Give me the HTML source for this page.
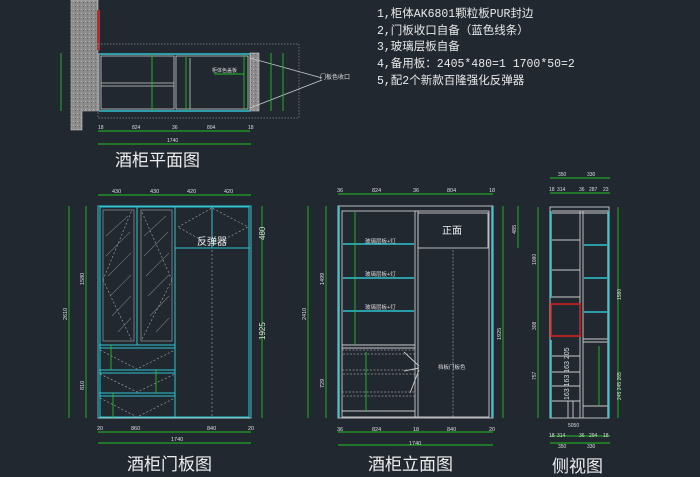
<!DOCTYPE html>
<html><head><meta charset="utf-8"><style>
html,body{margin:0;padding:0;background:#212830;}
svg{display:block}
.t{font-family:"Liberation Sans","Noto Sans CJK SC",sans-serif;}
</style></head><body>
<svg width="700" height="477" viewBox="0 0 700 477" xmlns="http://www.w3.org/2000/svg" class="t">
<defs>
<pattern id="conc" width="4" height="4" patternUnits="userSpaceOnUse"><rect width="4" height="4" fill="#8c8c8c"/><rect x="1" y="1" width="1" height="1" fill="#b5b5b5"/><rect x="3" y="2" width="1" height="1" fill="#666"/></pattern>
</defs>
<rect width="700" height="477" fill="#212830"/>

<!-- ===== PLAN VIEW ===== -->
<path d="M71 0 H98 V111 H82 V130 H71 Z" fill="url(#conc)" stroke="#ccc" stroke-width="0.6"/>
<rect x="97" y="10" width="3" height="40" fill="#d02020"/>
<rect x="98" y="44" width="201" height="74" fill="none" stroke="#888" stroke-width="0.7" stroke-dasharray="1.5,1.5"/>
<rect x="250" y="53" width="9" height="58" fill="url(#conc)" stroke="#ccc" stroke-width="0.6"/>
<g stroke="#ccc" stroke-width="0.8" fill="none">
<rect x="99" y="54" width="151" height="57"/>
<rect x="101" y="56" width="73" height="53"/>
<rect x="176" y="56" width="72" height="53"/>
<line x1="101" y1="83" x2="174" y2="83"/><line x1="101" y1="86" x2="174" y2="86"/>
<line x1="190" y1="58" x2="190" y2="109"/>
<line x1="250" y1="58" x2="322" y2="78"/><line x1="250" y1="108" x2="322" y2="80"/>
</g>
<g stroke="#2ec4d0" stroke-width="1.6"><line x1="99" y1="54" x2="250" y2="54"/><line x1="99" y1="111" x2="250" y2="111"/></g>
<g stroke="#22c022" stroke-width="0.9">
<line x1="152" y1="54" x2="152" y2="111"/><line x1="186" y1="57" x2="186" y2="110"/>
<line x1="244" y1="55" x2="244" y2="110"/><line x1="214" y1="74" x2="244" y2="74"/>
<line x1="271" y1="53" x2="271" y2="111"/><line x1="283" y1="53" x2="283" y2="111"/>
<line x1="61" y1="53" x2="61" y2="111"/>
<line x1="98" y1="131" x2="250" y2="131"/><line x1="98" y1="144" x2="251" y2="144"/>
</g>
<g fill="#ddd" font-size="5"><text x="212" y="72">柜体色盖板</text><text x="320" y="79" font-size="6">门板色收口</text>
<text x="98" y="129">18</text><text x="132" y="129">824</text><text x="172" y="129">36</text><text x="207" y="129">804</text><text x="248" y="129">18</text><text x="167" y="142">1740</text></g>
<text x="115" y="166" fill="#eee" font-size="17">酒柜平面图</text>

<!-- notes -->
<g fill="#e8e8e8" font-size="11.5" font-family="Liberation Mono,'Noto Sans CJK SC',monospace">
<text x="377" y="17">1,柜体AK6801颗粒板PUR封边</text>
<text x="377" y="34">2,门板收口自备（蓝色线条）</text>
<text x="377" y="50">3,玻璃层板自备</text>
<text x="377" y="67">4,备用板：2405*480=1  1700*50=2</text>
<text x="377" y="84">5,配2个新款百隆强化反弹器</text>
</g>

<!-- ===== DOOR PANEL VIEW ===== -->
<g stroke="#2ec4d0" stroke-width="1" fill="none">
<rect x="98" y="206" width="153" height="212"/>
<rect x="100" y="207" width="149" height="210"/>
<line x1="175" y1="206" x2="175" y2="418"/><line x1="137" y1="206" x2="137" y2="345"/>
<line x1="175" y1="248" x2="250" y2="248"/><line x1="212" y1="206" x2="212" y2="248"/>
<line x1="99" y1="345" x2="175" y2="345"/><line x1="99" y1="348" x2="175" y2="348"/>
<line x1="99" y1="370" x2="175" y2="370"/><line x1="99" y1="373" x2="175" y2="373"/>
<line x1="99" y1="393" x2="175" y2="393"/><line x1="99" y1="396" x2="175" y2="396"/>
</g>
<g stroke="#999" stroke-width="0.7" fill="none">
<rect x="103" y="210" width="31" height="131"/><rect x="141" y="210" width="31" height="131"/>
<path d="M103 280 L132 210 M103 280 L132 341 M172 280 L141 210 M172 280 L141 341" stroke-dasharray="2,2"/>
<path d="M178 227 L212 208 L248 227 L212 246 Z" stroke-dasharray="2,2"/>
<line x1="212" y1="250" x2="212" y2="417" stroke-dasharray="2,2"/>
<path d="M100 350 L137 369 L175 350 M100 374 L137 392 L175 374 M100 398 L137 417 L175 398" stroke-dasharray="2,2"/>
<line x1="98" y1="418" x2="251" y2="418" stroke="#ccc"/>
</g>
<g stroke="#777" stroke-width="0.6">
<line x1="106" y1="236" x2="128" y2="216"/><line x1="106" y1="256" x2="130" y2="232"/><line x1="108" y1="276" x2="131" y2="253"/><line x1="110" y1="296" x2="131" y2="275"/><line x1="112" y1="316" x2="131" y2="296"/><line x1="118" y1="332" x2="131" y2="318"/>
<line x1="144" y1="236" x2="166" y2="216"/><line x1="144" y1="256" x2="168" y2="232"/><line x1="146" y1="276" x2="169" y2="253"/><line x1="148" y1="296" x2="169" y2="275"/><line x1="150" y1="316" x2="169" y2="296"/><line x1="156" y1="332" x2="169" y2="318"/>
</g>
<g stroke="#22c022" stroke-width="0.9">
<line x1="98" y1="195" x2="251" y2="195"/><line x1="98" y1="432" x2="251" y2="432"/><line x1="98" y1="443" x2="251" y2="443"/>
<line x1="69" y1="206" x2="69" y2="418"/><line x1="86" y1="206" x2="86" y2="418"/><line x1="262" y1="206" x2="262" y2="418"/>
<line x1="111" y1="345" x2="111" y2="370"/><line x1="156" y1="369" x2="156" y2="393"/><line x1="113" y1="393" x2="113" y2="418"/>
</g>
<g fill="#ddd" font-size="5.5">
<text x="112" y="193">430</text><text x="150" y="193">430</text><text x="187" y="193">420</text><text x="224" y="193">420</text>
<text x="97" y="430">20</text><text x="131" y="430">860</text><text x="207" y="430">840</text><text x="248" y="430">20</text><text x="171" y="441">1740</text>
</g>
<g fill="#ddd" font-size="5.5">
<text transform="translate(67,320) rotate(-90)">2610</text><text transform="translate(84,285) rotate(-90)">1580</text><text transform="translate(84,390) rotate(-90)">810</text>
<text transform="translate(265,240) rotate(-90)" font-size="8">480</text><text transform="translate(265,340) rotate(-90)" font-size="8">1925</text>
</g>
<text x="197" y="245" fill="#eee" font-size="10">反弹器</text>
<text x="127" y="470" fill="#eee" font-size="17">酒柜门板图</text>

<!-- ===== ELEVATION VIEW ===== -->
<g stroke="#ccc" stroke-width="0.9" fill="none">
<rect x="338" y="206" width="155" height="212"/>
<rect x="342" y="211" width="147" height="206"/>
<line x1="415" y1="211" x2="415" y2="417"/><line x1="418" y1="211" x2="418" y2="417"/>
<rect x="418" y="213" width="70" height="35"/>
<line x1="342" y1="345" x2="415" y2="345"/><line x1="342" y1="348" x2="415" y2="348"/>
<line x1="342" y1="411" x2="415" y2="411"/>
<line x1="419" y1="366" x2="404" y2="352"/><line x1="419" y1="368" x2="404" y2="371"/><line x1="419" y1="370" x2="410" y2="393"/>
</g>
<g stroke="#999" stroke-width="0.7" stroke-dasharray="2,1.5" fill="none">
<rect x="342" y="350" width="73" height="4"/><rect x="342" y="370" width="73" height="4"/><rect x="342" y="392" width="73" height="4"/>
<line x1="453" y1="250" x2="453" y2="417"/>
</g>
<g stroke="#2ec4d0" stroke-width="1.6">
<line x1="339" y1="206" x2="339" y2="418"/><line x1="492" y1="206" x2="492" y2="418"/>
<line x1="343" y1="244" x2="414" y2="244"/><line x1="343" y1="278" x2="414" y2="278"/><line x1="343" y1="311" x2="414" y2="311"/>
</g>
<g stroke="#22c022" stroke-width="0.9">
<line x1="338" y1="194" x2="493" y2="194"/><line x1="338" y1="432" x2="493" y2="432"/><line x1="338" y1="445" x2="493" y2="445"/>
<line x1="308" y1="206" x2="308" y2="418"/><line x1="326" y1="206" x2="326" y2="418"/><line x1="503" y1="206" x2="503" y2="418"/><line x1="518" y1="206" x2="518" y2="248"/>
<line x1="355" y1="212" x2="355" y2="345"/><line x1="366" y1="352" x2="366" y2="412"/>
</g>
<g fill="#ddd" font-size="5.5">
<text x="337" y="192">36</text><text x="372" y="192">824</text><text x="413" y="192">36</text><text x="447" y="192">804</text><text x="489" y="192">18</text>
<text x="337" y="431">36</text><text x="372" y="431">824</text><text x="413" y="431">18</text><text x="447" y="431">840</text><text x="489" y="431">20</text><text x="409" y="445">1740</text>
<text x="365" y="243">玻璃层板+灯</text><text x="365" y="276">玻璃层板+灯</text><text x="365" y="309">玻璃层板+灯</text>
<text x="438" y="369">挡板门板色</text>
<text transform="translate(306,320) rotate(-90)">2410</text><text transform="translate(324,285) rotate(-90)">1499</text><text transform="translate(324,388) rotate(-90)">729</text>
<text transform="translate(516,234) rotate(-90)">485</text><text transform="translate(501,340) rotate(-90)">1925</text>
</g>
<text x="442" y="234" fill="#eee" font-size="10">正面</text>
<text x="368" y="470" fill="#eee" font-size="17">酒柜立面图</text>

<!-- ===== SIDE VIEW ===== -->
<g stroke="#ccc" stroke-width="0.9" fill="none">
<rect x="550" y="207" width="59" height="211"/>
<line x1="552" y1="211" x2="608" y2="211"/><line x1="552" y1="213" x2="608" y2="213"/>
<line x1="580" y1="211" x2="580" y2="418"/><line x1="583" y1="211" x2="583" y2="418"/>
<line x1="552" y1="240" x2="580" y2="240"/><line x1="552" y1="270" x2="580" y2="270"/><line x1="552" y1="297" x2="580" y2="297"/>
<line x1="552" y1="356" x2="580" y2="356"/><line x1="552" y1="372" x2="580" y2="372"/><line x1="552" y1="386" x2="580" y2="386"/><line x1="552" y1="401" x2="580" y2="401"/>
<line x1="583" y1="339" x2="608" y2="339"/><line x1="583" y1="342" x2="608" y2="342"/>
<line x1="583" y1="406" x2="608" y2="406"/><line x1="568" y1="401" x2="568" y2="418"/><line x1="573" y1="401" x2="573" y2="418"/>
</g>
<rect x="551" y="304" width="29" height="32" fill="none" stroke="#d02020" stroke-width="1.6"/>
<g stroke="#2ec4d0" stroke-width="1.6">
<line x1="584" y1="245" x2="607" y2="245"/><line x1="584" y1="278" x2="607" y2="278"/><line x1="584" y1="312" x2="607" y2="312"/>
<line x1="551" y1="211" x2="551" y2="298"/><line x1="551" y1="340" x2="551" y2="418"/><line x1="608" y1="211" x2="608" y2="418"/>
</g>
<g stroke="#22c022" stroke-width="0.9">
<line x1="550" y1="178" x2="610" y2="178"/><line x1="550" y1="193" x2="610" y2="193"/>
<line x1="550" y1="436" x2="610" y2="436"/><line x1="550" y1="443" x2="610" y2="443"/>
<line x1="538" y1="207" x2="538" y2="418"/><line x1="618" y1="207" x2="618" y2="418"/><line x1="599" y1="346" x2="599" y2="406"/>
</g>
<g fill="#ddd" font-size="5">
<text x="558" y="176">350</text><text x="587" y="176">330</text>
<text x="549" y="191">18</text><text x="557" y="191">314</text><text x="579" y="191">36</text><text x="589" y="191">287</text><text x="603" y="191">23</text>
<text x="568" y="427">5050</text>
<text x="549" y="437">18</text><text x="557" y="437">314</text><text x="579" y="437">36</text><text x="589" y="437">294</text><text x="603" y="437">18</text>
<text x="558" y="448">350</text><text x="587" y="448">330</text>
<text transform="translate(536,265) rotate(-90)">1080</text><text transform="translate(536,330) rotate(-90)">308</text><text transform="translate(536,380) rotate(-90)">757</text>
<text transform="translate(621,300) rotate(-90)">1580</text><text transform="translate(621,400) rotate(-90)">245 245 265</text>
<text transform="translate(569,400) rotate(-90)" font-size="7">163 163 163 205</text>
</g>
<text x="552" y="472" fill="#eee" font-size="17">侧视图</text>
</svg>
</body></html>
